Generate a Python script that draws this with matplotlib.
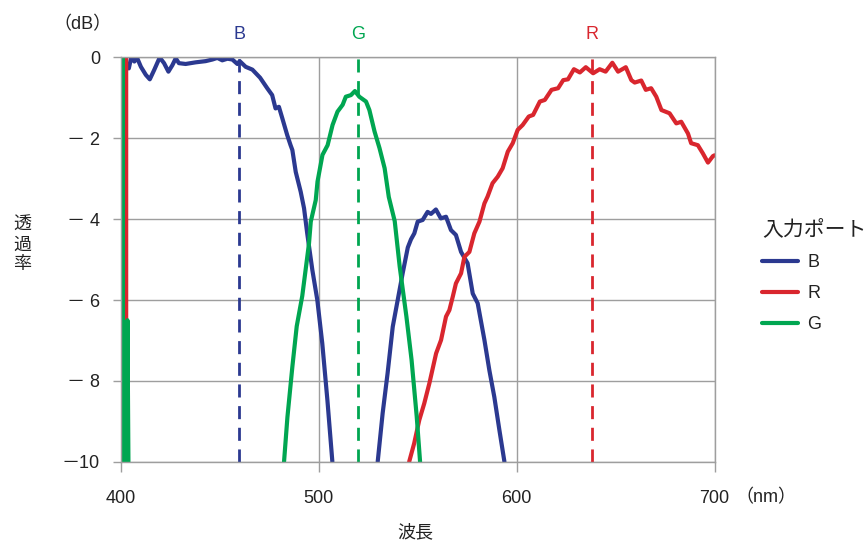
import numpy as np
import matplotlib
matplotlib.use('Agg')
import matplotlib.pyplot as plt

plt.rcParams['font.family'] = ['Liberation Sans', 'Noto Sans CJK JP', 'DejaVu Sans']

# Transmission (dB) vs wavelength (nm) for each input port, clipped at -10 dB
blue_x = [404.2, 405.4, 407.0, 408.3, 410.3, 412.8, 414.8, 417.0, 419.8, 422.0,
          424.2, 426.2, 427.9, 429.5, 432.9, 437.9, 443.0, 446.4, 448.9, 451.4,
          454.0, 456.5, 459.0, 460.2, 463.2, 466.6, 470.5, 474.1, 476.6, 478.3,
          480.0, 481.7, 484.2, 485.9, 486.8, 488.5, 491.0, 492.7, 494.3, 496.9,
          499.4, 501.9, 504.5, 507.0, np.nan,
          529.9, 532.4, 534.9, 537.5, 540.0, 542.5, 545.1, 546.7, 548.4, 550.1,
          552.6, 555.1, 556.8, 559.3, 561.8, 564.4, 566.9, 569.4, 572.0, 575.3,
          577.9, 580.4, 583.8, 586.3, 588.8, 591.4, 593.9]
blue_y = [-0.27, 0.0, -0.10, 0.0, -0.23, -0.43, -0.54, -0.31, 0.0, -0.14,
          -0.35, -0.19, -0.02, -0.14, -0.16, -0.12, -0.09, -0.05, -0.01, -0.07,
          -0.03, -0.05, -0.16, -0.09, -0.23, -0.30, -0.50, -0.76, -0.93, -1.26,
          -1.22, -1.50, -1.92, -2.17, -2.29, -2.83, -3.32, -3.73, -4.35, -5.26,
          -6.00, -7.07, -8.48, -10.0, np.nan,
          -10.0, -8.80, -7.81, -6.66, -6.00, -5.34, -4.70, -4.50, -4.35, -4.06,
          -4.02, -3.82, -3.87, -3.76, -3.98, -3.94, -4.27, -4.39, -4.81, -5.09,
          -5.84, -6.08, -6.99, -7.74, -8.40, -9.23, -10.0]

red_x = [402.7, 402.8, 402.9, np.nan,
         545.8, 548.3, 550.9, 553.4, 556.0, 559.4, 561.9, 564.4, 566.1, 567.8,
         569.4, 572.0, 573.7, 576.2, 578.7, 581.3, 583.8, 585.4, 587.9, 590.5,
         593.0, 595.6, 598.1, 600.6, 603.1, 606.2, 608.4, 611.8, 614.3, 617.7,
         621.0, 623.6, 626.0, 629.0, 632.0, 635.0, 638.7, 642.0, 645.0, 648.4,
         651.3, 655.2, 658.0, 659.7, 663.0, 665.3, 668.0, 670.6, 673.2, 677.3,
         680.7, 683.2, 686.6, 688.2, 691.6, 694.1, 696.7, 699.2, 700.0]
red_y = [-10.0, 0.0, -10.0, np.nan,
         -10.0, -9.55, -8.97, -8.56, -8.06, -7.32, -6.99, -6.41, -6.25, -5.92,
         -5.59, -5.34, -4.93, -4.81, -4.35, -4.06, -3.61, -3.44, -3.11, -2.95,
         -2.74, -2.33, -2.12, -1.79, -1.67, -1.46, -1.42, -1.09, -1.05, -0.80,
         -0.76, -0.56, -0.54, -0.29, -0.37, -0.24, -0.39, -0.29, -0.35, -0.13,
         -0.35, -0.24, -0.56, -0.62, -0.57, -0.80, -0.76, -0.97, -1.30, -1.38,
         -1.63, -1.59, -1.88, -2.12, -2.17, -2.37, -2.60, -2.44, -2.42]

green_x = [400.9, 401.0, 401.1, np.nan, 403.0, 403.5, 404.0, np.nan,
           482.6, 484.3, 486.8, 489.0, 491.8, 495.2, 496.1, 498.6, 499.5, 502.0,
           504.6, 507.1, 509.6, 512.2, 513.8, 516.4, 518.4, 520.6, 524.0, 525.7,
           528.3, 530.8, 533.4, 535.5, 538.5, 541.0, 544.4, 547.0, 549.6, 551.3]
green_y = [-10.0, 0.0, -10.0, np.nan, -10.0, -6.5, -10.0, np.nan,
           -10.0, -8.90, -7.65, -6.65, -5.90, -4.60, -4.06, -3.53, -3.07, -2.41,
           -2.17, -1.67, -1.34, -1.17, -0.97, -0.93, -0.83, -0.97, -1.09, -1.30,
           -1.83, -2.24, -2.74, -3.45, -4.05, -5.17, -6.41, -7.48, -8.88, -10.0]

# peak markers (dashed lines)
peak_names = ['B', 'G', 'R']
peak_nm = [460, 520, 638]

xticks = [400, 500, 600, 700]
yticks = [-10, -8, -6, -4, -2, 0]
ytick_labels = ['－10', '－ 8', '－ 6', '－ 4', '－ 2', '0']

colors = {'B': '#2B3990', 'R': '#D9262E', 'G': '#00A651'}
grid_c = '#9E9E9E'
txt_c = '#222222'

W, H = 866, 543
fig = plt.figure(figsize=(W / 100, H / 100), dpi=100)
ax = fig.add_axes([120.5 / W, 1 - 461.7 / H, (714.5 - 120.5) / W, (461.7 - 57.5) / H])

line_kw = dict(lw=3.0, solid_joinstyle='round', solid_capstyle='round')
ax.plot(blue_x, blue_y, color=colors['B'], label='B', **line_kw)
ax.plot(red_x, red_y, color=colors['R'], label='R', **line_kw)
ax.plot(green_x, green_y, color=colors['G'], label='G', **line_kw)

for name, x in zip(peak_names, peak_nm):
    ax.vlines(x, -10, 0, color=colors[name], lw=2.0, linestyles=(0, (4.7, 3.1)))
    ax.text(x, 1.056, name, color=colors[name], fontsize=13, ha='center', va='center',
            transform=ax.get_xaxis_transform())

ax.set_xlim(400, 700)
ax.set_ylim(-10, 0)
ax.set_xticks(xticks)
ax.set_yticks(yticks)
ax.set_yticklabels(ytick_labels)
ax.grid(True, color=grid_c, lw=1.0)
ax.set_axisbelow(True)
for s in ax.spines.values():
    s.set_color(grid_c)
    s.set_linewidth(1.0)
ax.tick_params(axis='x', length=7.2, width=1.0, color=grid_c, pad=13, labelsize=13, labelcolor=txt_c)
ax.tick_params(axis='y', length=5.8, width=1.0, color=grid_c, pad=9, labelsize=13, labelcolor=txt_c)

fig.text(83 / W, 1 - 25 / H, '（dB）', fontsize=13, ha='center', va='center', color=txt_c)
fig.text(766 / W, 1 - 498 / H, '（nm）', fontsize=13, ha='center', va='center', color=txt_c)
fig.text(415 / W, 1 - 533 / H, '波長', fontsize=13, ha='center', va='center', color=txt_c)
fig.text(22 / W, 1 - 245 / H, '透\n過\n率', fontsize=13, ha='center', va='center',
         linespacing=1.2, color=txt_c)

leg = ax.legend(title='入力ポート', loc='upper left', bbox_to_anchor=(762 / W, 1 - 220 / H),
                bbox_transform=fig.transFigure, frameon=False, fontsize=13, title_fontsize=15,
                handlelength=2.0, handletextpad=0.5, labelspacing=0.78, borderpad=0,
                borderaxespad=0, alignment='left')
for t in leg.get_texts():
    t.set_color(txt_c)
leg.get_title().set_color(txt_c)

fig.savefig('out.png', dpi=100)
